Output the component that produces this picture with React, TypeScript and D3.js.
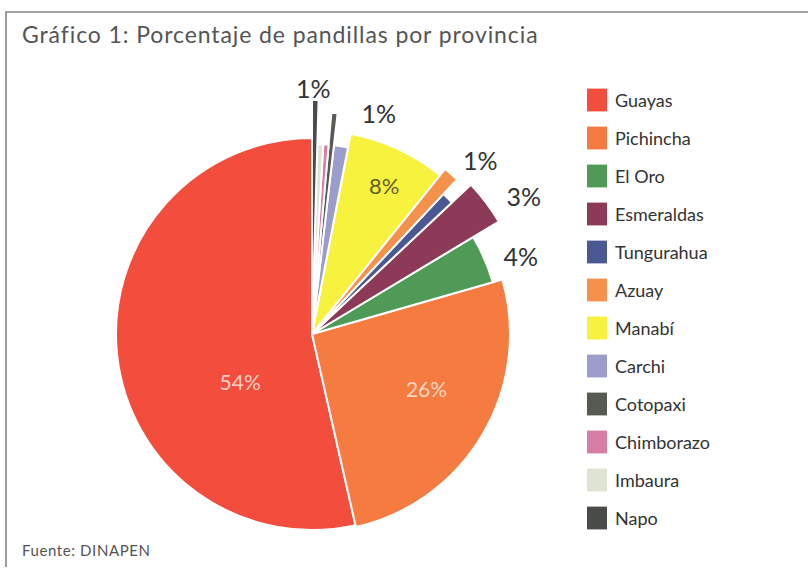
import React, { useEffect, useRef } from 'react';
import * as d3 from 'd3';

// provinces, in legend order
const provincias = ['Guayas', 'Pichincha', 'El Oro', 'Esmeraldas', 'Tungurahua', 'Azuay', 'Manabí', 'Carchi', 'Cotopaxi', 'Chimborazo', 'Imbaura', 'Napo'];
// share of gangs per province (%)
const porcentajes = [53.8, 26.0, 4.2, 3.4, 1.0, 1.2, 7.8, 1.2, 0.45, 0.45, 0.5, 0.45];
// printed labels
const etiquetas = ['54%', '26%', '4%', '3%', '', '1%', '8%', '1%', '', '', '', '1%'];

const colores = ['#f24d3d', '#f67b40', '#4f9a57', '#8c3a57', '#4b5893', '#f6914c', '#f7f23d', '#9d9dcc', '#575a53', '#d87ea6', '#dfe3d3', '#4a4c48'];
// outer radius of each wedge (they are not all equal in the original)
const radios = [196, 198, 188, 218, 192, 212, 204, 190, 222, 190, 190, 234];
// label placement: radius and angle shift (degrees)
const labelPos = [
  { r: 86, da: -27, fill: '#fbd0c4', size: 21 },
  { r: 127, da: -5, fill: '#fbd6c0', size: 21 },
  { r: 223, da: 3, fill: '#333', size: 25 },
  { r: 253, da: 4, fill: '#333', size: 25 },
  { r: 0, da: 0, fill: '#333', size: 25 },
  { r: 242, da: 3, fill: '#333', size: 25 },
  { r: 165, da: 1, fill: '#62602a', size: 22 },
  { r: 231, da: 8, fill: '#333', size: 25 },
  { r: 0, da: 0, fill: '#333', size: 25 },
  { r: 0, da: 0, fill: '#333', size: 25 },
  { r: 0, da: 0, fill: '#333', size: 25 },
  { r: 246, da: -0.5, fill: '#333', size: 25 },
];

const W = 808;
const H = 571;
const FONT = 'Lato, "Open Sans", sans-serif';

export default function App() {
  const svgRef = useRef<SVGSVGElement>(null);

  useEffect(() => {
    const svg = d3.select(svgRef.current);
    svg.selectAll('*').remove();

    // frame
    svg.append('path')
      .attr('d', `M6,${H - 4} L6,12 L${W},12`)
      .attr('fill', 'none')
      .attr('stroke', '#888')
      .attr('stroke-width', 1.6);

    svg.append('text')
      .attr('x', 22)
      .attr('y', 43)
      .attr('font-family', FONT)
      .attr('font-size', 23)
      .attr('letter-spacing', 0.9)
      .attr('fill', '#555')
      .text('Gráfico 1: Porcentaje de pandillas por provincia');

    svg.append('text')
      .attr('x', 22)
      .attr('y', 556)
      .attr('font-family', FONT)
      .attr('font-size', 15)
      .attr('letter-spacing', 0.6)
      .attr('fill', '#555')
      .text('Fuente: DINAPEN');

    const data = provincias.map((p, i) => ({ p, v: porcentajes[i], i }));

    // counter-clockwise from 12 o'clock
    const pie = d3.pie<any>()
      .sort(null)
      .value(d => d.v)
      .startAngle(2 * Math.PI)
      .endAngle(0);

    const arcs = pie(data);
    const arc = d3.arc<any>()
      .innerRadius(0)
      .outerRadius(d => radios[d.data.i]);

    const g = svg.append('g').attr('transform', 'translate(312,334)');

    g.selectAll('path.slice')
      .data(arcs)
      .enter()
      .append('path')
      .attr('class', 'slice')
      .attr('d', arc)
      .attr('fill', d => colores[d.data.i])
      .attr('stroke', '#fff')
      .attr('stroke-width', 2)
      .attr('stroke-linejoin', 'round');

    g.selectAll('text.lbl')
      .data(arcs.filter(d => etiquetas[d.data.i] !== ''))
      .enter()
      .append('text')
      .attr('class', 'lbl')
      .attr('x', d => {
        const lp = labelPos[d.data.i];
        const a = (d.startAngle + d.endAngle) / 2 + (lp.da * Math.PI) / 180;
        return lp.r * Math.sin(a);
      })
      .attr('y', d => {
        const lp = labelPos[d.data.i];
        const a = (d.startAngle + d.endAngle) / 2 + (lp.da * Math.PI) / 180;
        return -lp.r * Math.cos(a);
      })
      .attr('text-anchor', 'middle')
      .attr('dominant-baseline', 'central')
      .attr('font-family', FONT)
      .attr('font-size', d => labelPos[d.data.i].size)
      .attr('fill', d => labelPos[d.data.i].fill)
      .text(d => etiquetas[d.data.i]);

    // legend
    const y = d3.scaleBand()
      .domain(provincias)
      .range([81, 537])
      .paddingInner(0.4)
      .paddingOuter(0.2);

    const leg = svg.append('g');
    const row = leg.selectAll('g')
      .data(provincias)
      .enter()
      .append('g')
      .attr('transform', d => `translate(587,${y(d)})`);

    row.append('rect')
      .attr('width', 20)
      .attr('height', y.bandwidth())
      .attr('fill', (d, i) => colores[i]);

    row.append('text')
      .attr('x', 28)
      .attr('y', y.bandwidth() / 2)
      .attr('dominant-baseline', 'central')
      .attr('font-family', FONT)
      .attr('font-size', 18)
      .attr('fill', '#333')
      .text(d => d);
  }, []);

  return (
    <svg
      ref={svgRef}
      width={W}
      height={H}
      style={{ position: 'absolute', left: 0, top: 0, background: '#fff' }}
    />
  );
}
